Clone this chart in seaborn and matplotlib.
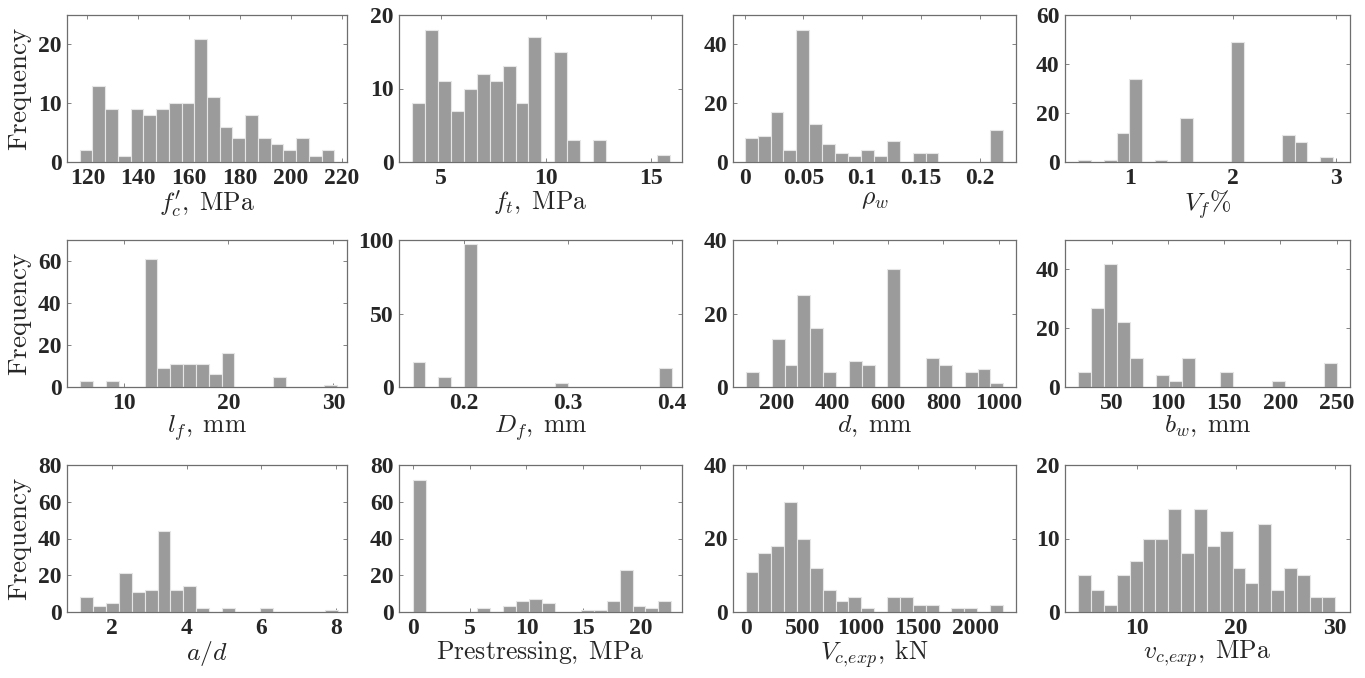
import numpy as np
import pandas as pd
import matplotlib
matplotlib.use("Agg")
import matplotlib.pyplot as plt
import seaborn as sns

sns.set_theme(style="white")
plt.rcParams['mathtext.fontset'] = 'cm'
plt.rcParams['font.family'] = ['Liberation Serif', 'DejaVu Serif']

# ---- data: (bin start, bin width, counts) per panel ----
fc_start, fc_width = 117.0, 5.0
fc_counts = [2, 13, 9, 1, 9, 8, 9, 10, 10, 21, 11, 6, 4, 8, 4, 3, 2, 4, 1, 2]

ft_start, ft_width = 3.64, 0.615
ft_counts = [8, 18, 11, 7, 10, 12, 11, 13, 8, 17, 0, 15, 3, 0, 3, 0, 0, 0, 0, 1]

rho_start, rho_width = 0.0, 0.011
rho_counts = [8, 9, 17, 4, 45, 13, 6, 3, 2, 4, 2, 7, 0, 3, 3, 0, 0, 0, 0, 11]

vf_start, vf_width = 0.5, 0.1237
vf_counts = [1, 0, 1, 12, 34, 0, 1, 0, 18, 0, 0, 0, 49, 0, 0, 0, 11, 8, 0, 2]

lf_start, lf_width = 5.87, 1.225
lf_counts = [3, 0, 3, 0, 0, 61, 9, 11, 11, 11, 6, 16, 0, 0, 0, 5, 0, 0, 0, 1]

df_start, df_width = 0.151, 0.01245
df_counts = [17, 0, 7, 0, 97, 0, 0, 0, 0, 0, 0, 3, 0, 0, 0, 0, 0, 0, 0, 13]

d_start, d_width = 88.0, 46.4
d_counts = [4, 0, 13, 6, 25, 16, 4, 0, 7, 6, 0, 32, 0, 0, 8, 6, 0, 4, 5, 1]

bw_start, bw_width = 20.0, 11.5
bw_counts = [5, 27, 42, 22, 10, 0, 4, 2, 10, 0, 0, 5, 0, 0, 0, 2, 0, 0, 0, 8]

ad_start, ad_width = 1.148, 0.345
ad_counts = [8, 3, 5, 21, 11, 12, 44, 12, 14, 2, 0, 2, 0, 0, 2, 0, 0, 0, 0, 1]

ps_start, ps_width = 0.0, 1.136
ps_counts = [72, 0, 0, 0, 0, 2, 0, 3, 6, 7, 5, 0, 0, 1, 1, 6, 23, 3, 2, 6]

Vc_start, Vc_width = 0.0, 112.0
Vc_counts = [11, 16, 18, 30, 20, 12, 6, 3, 4, 1, 0, 4, 4, 2, 2, 0, 1, 1, 0, 2]

vc_start, vc_width = 4.1, 1.296
vc_counts = [5, 3, 1, 5, 7, 10, 10, 14, 8, 14, 9, 11, 6, 4, 12, 3, 6, 5, 2, 2]

xlabels = [r'$f^{\prime}_c,\;\mathrm{MPa}$', r'$f_t,\;\mathrm{MPa}$', r'$\rho_w$', r'$V_f\%$',
           r'$l_f,\;\mathrm{mm}$', r'$D_f,\;\mathrm{mm}$', r'$d,\;\mathrm{mm}$', r'$b_w,\;\mathrm{mm}$',
           r'$a/d$', r'$\mathrm{Prestressing,\;MPa}$', r'$V_{c{,}exp},\;\mathrm{kN}$',
           r'$v_{c{,}exp},\;\mathrm{MPa}$']

xticks = [[120, 140, 160, 180, 200, 220], [5, 10, 15], [0, 0.05, 0.1, 0.15, 0.2], [1, 2, 3],
          [10, 20, 30], [0.2, 0.3, 0.4], [200, 400, 600, 800, 1000], [50, 100, 150, 200, 250],
          [2, 4, 6, 8], [0, 5, 10, 15, 20], [0, 500, 1000, 1500, 2000], [10, 20, 30]]
yticks = [[0, 10, 20], [0, 10, 20], [0, 20, 40], [0, 20, 40, 60],
          [0, 20, 40, 60], [0, 50, 100], [0, 20, 40], [0, 20, 40],
          [0, 20, 40, 60, 80], [0, 20, 40, 60, 80], [0, 20, 40], [0, 10, 20]]

panels = [(fc_start, fc_width, fc_counts), (ft_start, ft_width, ft_counts),
          (rho_start, rho_width, rho_counts), (vf_start, vf_width, vf_counts),
          (lf_start, lf_width, lf_counts), (df_start, df_width, df_counts),
          (d_start, d_width, d_counts), (bw_start, bw_width, bw_counts),
          (ad_start, ad_width, ad_counts), (ps_start, ps_width, ps_counts),
          (Vc_start, Vc_width, Vc_counts), (vc_start, vc_width, vc_counts)]

# ---- layout ----
xlims = [(112, 222), (3, 16.5), (-0.01, 0.231), (0.37, 3.14),
         (4.6, 31.3), (0.138, 0.41), (41, 1062), (8, 262),
         (0.79, 8.3), (-1.2, 23.66), (-110, 2355), (2.76, 31.5)]
ylims = [(0, 25), (0, 20), (0, 50), (0, 60), (0, 70), (0, 100), (0, 40), (0, 50),
         (0, 80), (0, 80), (0, 40), (0, 20)]

W, H = 1365, 678
fig = plt.figure(figsize=(W / 100, H / 100), dpi=100)
lefts = [67, 399, 733, 1065]
widths = [280, 283, 283, 285]
tops = [15, 240, 465]
ax_h = 147

bar_color = '#9b9b9b'
edge_color = '#e6e6e6'
frame_color = '#6e6e6e'

for i, (start, width, counts) in enumerate(panels):
    r, c = divmod(i, 4)
    ax = fig.add_axes([lefts[c] / W, (H - tops[r] - ax_h) / H, widths[c] / W, ax_h / H])
    n = len(counts)
    edges = [float(start + width * k) for k in range(n + 1)]
    centers = [(edges[k] + edges[k + 1]) / 2 for k in range(n)]
    df = pd.DataFrame({'x': centers, 'w': counts})
    sns.histplot(data=df, x='x', weights='w', bins=edges, ax=ax, color=bar_color,
                 edgecolor=edge_color, linewidth=0.8, alpha=1.0)
    ax.set_xlim(*xlims[i])
    ax.set_ylim(*ylims[i])
    ax.set_xticks(xticks[i])
    ax.set_yticks(yticks[i])
    ax.set_xticklabels([f'{t:g}' for t in xticks[i]])
    ax.set_yticklabels([f'{t:g}' for t in yticks[i]])
    for lab in ax.get_xticklabels() + ax.get_yticklabels():
        lab.set_fontweight('bold')
        lab.set_fontsize(17)
        lab.set_fontfamily('Liberation Serif')
    ax.tick_params(direction='in', length=3, width=0.6, color=frame_color,
                   top=True, right=True, bottom=True, left=True, pad=4)
    for sp in ax.spines.values():
        sp.set_color(frame_color)
        sp.set_linewidth(0.9)
        sp.set_visible(True)
    ax.set_xlabel(xlabels[i], fontsize=18.5, labelpad=0)
    if c == 0:
        ax.set_ylabel(r'$\mathrm{Frequency}$', fontsize=19.5, labelpad=3)
    else:
        ax.set_ylabel('')
    ax.grid(False)

fig.savefig('out.png', dpi=100, facecolor='white')
